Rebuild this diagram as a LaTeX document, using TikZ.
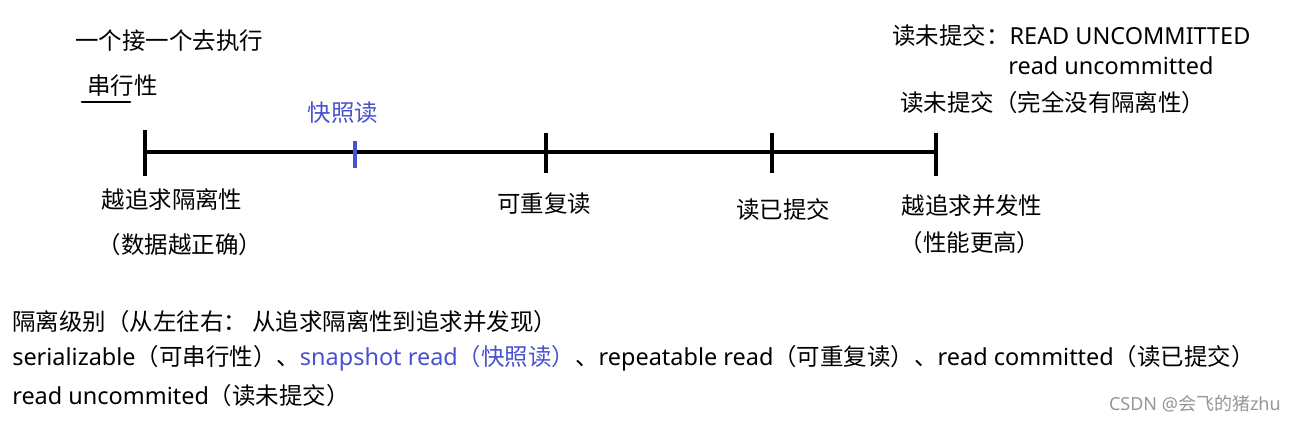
\documentclass[tikz,border=0pt]{standalone}
\usepackage{fontspec}
\setmainfont{Noto Sans}
\newfontfamily\cjk{Noto Sans CJK SC}
\newcommand{\zh}[1]{{\cjk #1}}
\definecolor{snapblue}{RGB}{72,82,208}
\definecolor{wmgray}{RGB}{150,150,150}
\begin{document}
\begin{tikzpicture}[x=0.75pt,y=-0.75pt,
  txt/.style={inner sep=0pt,font=\fontsize{17.6}{20}\selectfont},
  axis/.style={line width=2.3pt,black},
  tick/.style={line width=2.3pt,black},
  bluetick/.style={line width=2.3pt,snapblue}]
\useasboundingbox (0,0) rectangle (1296,423);
% axis
\coordinate (a0) at (145,152);
\coordinate (a1) at (936,152);
\draw[axis] (a0) -- (a1);
\coordinate (t1a) at (145,130); \coordinate (t1b) at (145,176);
\coordinate (t2a) at (355,141); \coordinate (t2b) at (355,168);
\coordinate (t3a) at (546,133); \coordinate (t3b) at (546,173);
\coordinate (t4a) at (772,133); \coordinate (t4b) at (772,173);
\coordinate (t5a) at (936,133); \coordinate (t5b) at (936,176);
\draw[tick] (t1a) -- (t1b);
\draw[bluetick] (t2a) -- (t2b);
\draw[tick] (t3a) -- (t3b);
\draw[tick] (t4a) -- (t4b);
\draw[tick] (t5a) -- (t5b);
% top left
\node[txt,anchor=west] (one) at (75,41) {\zh{一个接一个去执行}};
\node[txt,anchor=west] (ser) at (87,86) {\zh{串行性}};
\coordinate (u0) at (82,102); \coordinate (u1) at (130,102);
\draw[line width=2.2pt,line cap=round] (u0) -- (u1);
\node[txt,anchor=center,text=snapblue] (snap) at (343,113) {\zh{快照读}};
% below axis
\node[txt] (iso) at (172,200) {\zh{越追求隔离性}};
\node[txt] (iso2) at (180,245) {\zh{（数据越正确）}};
\node[txt] (rr) at (544,204) {\zh{可重复读}};
\node[txt] (rc) at (783,210) {\zh{读已提交}};
\node[txt] (conc) at (972,206) {\zh{越追求并发性}};
\node[txt] (conc2) at (970,243) {\zh{（性能更高）}};
% top right
\node[txt,anchor=west] (ru1) at (892,36) {\zh{读未提交：}READ UNCOMMITTED};
\node[txt,anchor=west] (ru2) at (1008,66) {read uncommitted};
\node[txt,anchor=west] (ru3) at (900,103) {\zh{读未提交（完全没有隔离性）}};
% bottom text
\node[txt,anchor=west] (b1) at (12,322) {\zh{隔离级别（从左往右： 从追求隔离性到追求并发现）}};
\node[txt,anchor=west] (b2) at (12,358) {serializable\zh{（可串行性）、}\textcolor{snapblue}{snapshot read\zh{（快照读）}}\zh{、}repeatable read\zh{（可重复读）、}read committed\zh{（读已提交）}};
\node[txt,anchor=west] (b3) at (12,396) {read uncommited\zh{（读未提交）}};
\node[inner sep=0pt,anchor=east,text=wmgray,font=\fontsize{13.5}{15}\selectfont] (wm) at (1281,404) {CSDN @\zh{会飞的猪}zhu};
\end{tikzpicture}
\end{document}
